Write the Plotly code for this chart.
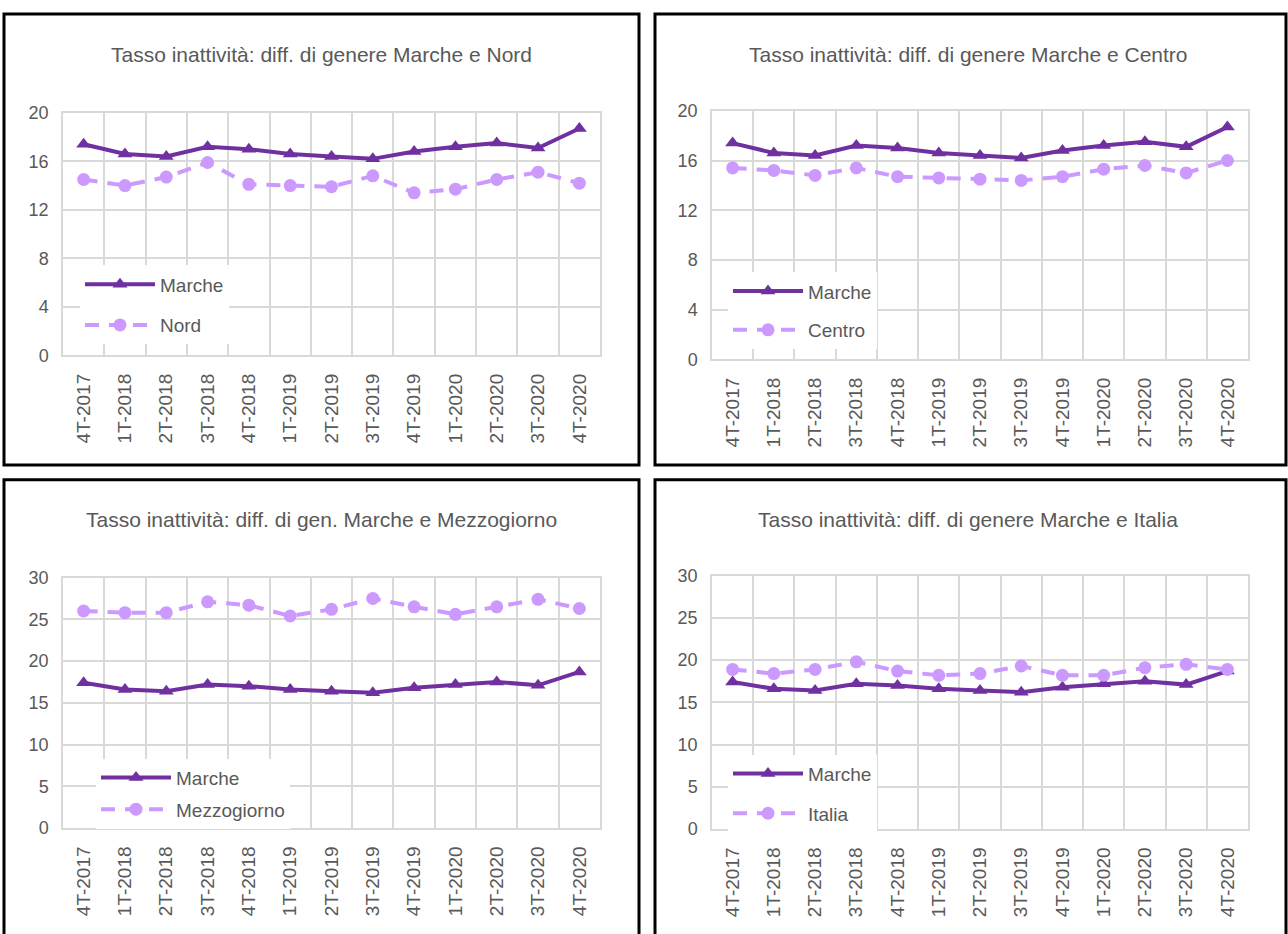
import plotly.graph_objects as go

# trimestri
quarters = ["4T-2017", "1T-2018", "2T-2018", "3T-2018", "4T-2018", "1T-2019", "2T-2019",
            "3T-2019", "4T-2019", "1T-2020", "2T-2020", "3T-2020", "4T-2020"]

# differenza di genere nel tasso di inattività
marche = [17.4, 16.6, 16.4, 17.2, 17.0, 16.6, 16.4, 16.2, 16.8, 17.2, 17.5, 17.1, 18.7]
nord = [14.5, 14.0, 14.7, 15.9, 14.1, 14.0, 13.9, 14.8, 13.4, 13.7, 14.5, 15.1, 14.2]
centro = [15.4, 15.2, 14.8, 15.4, 14.7, 14.6, 14.5, 14.4, 14.7, 15.3, 15.6, 15.0, 16.0]
mezzogiorno = [26.0, 25.8, 25.8, 27.1, 26.7, 25.4, 26.2, 27.5, 26.5, 25.6, 26.5, 27.4, 26.3]
italia = [18.9, 18.4, 18.9, 19.8, 18.7, 18.2, 18.4, 19.3, 18.2, 18.2, 19.1, 19.5, 18.9]

titles = ["Tasso inattività: diff. di genere Marche e Nord",
          "Tasso inattività: diff. di genere Marche e Centro",
          "Tasso inattività: diff. di gen. Marche e Mezzogiorno",
          "Tasso inattività: diff. di genere Marche e Italia"]
others = [("Nord", nord), ("Centro", centro), ("Mezzogiorno", mezzogiorno), ("Italia", italia)]

W, H = 1288, 934
FONT = "Liberation Sans, Arial, sans-serif"
GREY = "#595959"
GRID = "#D9D9D9"
DARK = "#7030A0"
LIGHT = "#CC99FF"

def px(x):
    return x / W

def py(y):
    return 1 - y / H

# aree dei grafici (pixel)
plot_boxes = [(63, 600, 105, 353), (712, 1248, 103, 357), (63, 600, 580, 836), (712, 1248, 578, 837)]
panel_boxes = [(4, 639, 4, 465), (655, 1286, 4, 465), (4, 639, 480, 950), (655, 1286, 480, 950)]
title_pos = [(321, 45), (968, 45), (321, 521), (968, 521)]
legend_pos = [(80, 261), (728, 268), (96, 765), (728, 761)]
legend_gap = [13, 11, 4, 12]
yranges = [(20, 4), (20, 4), (30, 5), (30, 5)]

fig = go.Figure()
layout = dict(width=W, height=H, margin=dict(l=0, r=0, t=0, b=0),
              paper_bgcolor="white", plot_bgcolor="white",
              font=dict(family=FONT, color=GREY), showlegend=True)
shapes = []
annotations = []

for i in range(4):
    n = "" if i == 0 else str(i + 1)
    leg = "legend" + n
    name, vals = others[i]

    fig.add_trace(go.Scatter(x=quarters, y=marche, name="Marche", mode="lines+markers",
                             line=dict(color=DARK, width=4),
                             marker=dict(symbol="triangle-up", size=13, color=DARK),
                             xaxis="x" + n, yaxis="y" + n, legend=leg, legendgroup="m" + n))
    fig.add_trace(go.Scatter(x=quarters, y=vals, name=name, mode="lines+markers",
                             line=dict(color=LIGHT, width=4, dash="14px,10px"),
                             marker=dict(symbol="circle", size=13, color=LIGHT),
                             xaxis="x" + n, yaxis="y" + n, legend=leg, legendgroup="o" + n))

    x0, x1, y0, y1 = plot_boxes[i]
    ymax, dt = yranges[i]
    layout["xaxis" + n] = dict(domain=[px(x0), px(x1)], anchor="y" + n, type="category",
                               range=[-0.5, 12.5], tickson="boundaries", showgrid=True,
                               gridcolor=GRID, gridwidth=1.5, showline=True, mirror=True,
                               linecolor=GRID, linewidth=1.5, tickangle=-90, ticks="",
                               ticklabelstandoff=9, tickfont=dict(size=19, color=GREY))
    layout["yaxis" + n] = dict(domain=[py(y1), py(y0)], anchor="x" + n, range=[0, ymax],
                               dtick=dt, showgrid=True, gridcolor=GRID, gridwidth=1.5,
                               zeroline=False, showline=True, mirror=True, linecolor=GRID,
                               linewidth=1.5, ticks="", ticklabelstandoff=9,
                               tickfont=dict(size=18, color=GREY))
    lx, ly = legend_pos[i]
    layout[leg] = dict(x=px(lx), y=py(ly), xanchor="left", yanchor="top",
                       bgcolor="white", borderwidth=0, itemwidth=70,
                       tracegroupgap=legend_gap[i], font=dict(size=19, color=GREY))

    tx, ty = title_pos[i]
    annotations.append(dict(text=titles[i], x=px(tx), y=py(ty), xref="paper", yref="paper",
                            xanchor="center", yanchor="middle", showarrow=False,
                            font=dict(size=21, color=GREY)))

    a, b, c, d = panel_boxes[i]
    shapes.append(dict(type="rect", xref="paper", yref="paper", x0=px(a), x1=px(b),
                       y0=py(d), y1=py(c), line=dict(color="black", width=3)))

layout["shapes"] = shapes
layout["annotations"] = annotations
fig.update_layout(**layout)

# niente margine di pagina attorno al grafico, niente barra strumenti
fig.write_html("out.html", config={"displayModeBar": False},
               post_script="document.body.style.margin='0px';")
